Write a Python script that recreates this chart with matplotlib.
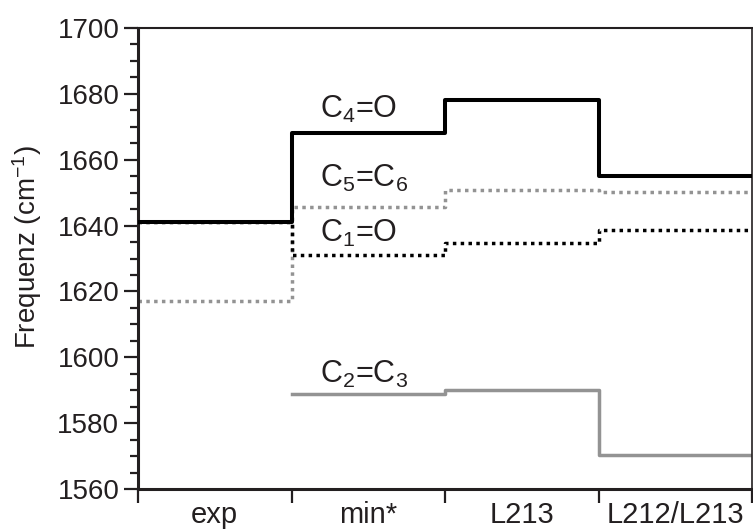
import matplotlib
matplotlib.use("Agg")
import matplotlib.pyplot as plt
import numpy as np

plt.rcParams['font.family'] = ['Liberation Sans', 'DejaVu Sans']
plt.rcParams['mathtext.default'] = 'regular'

categories = ["exp", "min*", "L213", "L212/L213"]

c4o = [1641, 1668, 1678, 1655]
c5c6 = [1617, 1645.5, 1650.8, 1650.2]
c1o = [1641, 1631.2, 1634.6, 1638.6]
c2c3 = [1589, 1590.2, 1570.3]   # from min* onward

ink = "#231f20"
grey = "#939393"

fig = plt.figure(figsize=(7.53, 5.29), dpi=100)
ax = fig.add_axes([138/753, 1 - 489/529, (752 - 138)/753, (489 - 28)/529])


def step_xy(values, start=0):
    xs = np.arange(start, start + len(values) + 1)
    ys = list(values) + [values[-1]]
    return xs, ys


dot = (0, (1.0, 1.25))

x, y = step_xy(c5c6)
ax.step(x, y, where='post', color=grey, lw=2.5, linestyle=dot, dash_capstyle='butt', zorder=2)
x, y = step_xy(c1o)
ax.step(x, y, where='post', color='black', lw=2.5, linestyle=dot, dash_capstyle='butt', zorder=3)
x, y = step_xy(c2c3, start=1)
ax.step(x, y, where='post', color=grey, lw=2.5, zorder=2)
x, y = step_xy(c4o)
ax.step(x, y, where='post', color='black', lw=2.9, zorder=4)

ax.set_xlim(0, 4)
ax.set_ylim(1560, 1700)

ax.set_yticks(np.arange(1560, 1701, 20))
ax.set_yticks(np.arange(1560, 1701, 5), minor=True)
ax.set_xticks(np.arange(0, 5))
ax.set_xticklabels([])
ax.set_xticks(np.arange(len(categories)) + 0.5, minor=True)
ax.set_xticklabels(categories, minor=True)

ax.tick_params(axis='y', which='major', length=10, width=1.6, labelsize=20,
               colors=ink, pad=3.5)
ax.tick_params(axis='y', which='minor', length=5.5, width=1.6, colors=ink)
ax.tick_params(axis='x', which='major', length=10, width=1.6, colors=ink)
ax.tick_params(axis='x', which='minor', length=0, labelsize=21, colors=ink, pad=8.5)

for side, w in [('left', 2.2), ('bottom', 2.2), ('top', 1.5), ('right', 1.2)]:
    ax.spines[side].set_linewidth(w)
    ax.spines[side].set_color(ink)

ax.set_ylabel("Frequenz (cm$^{-1}$)", fontsize=20, color=ink)
ax.yaxis.set_label_coords(-0.153, 0.525)

lab = dict(fontsize=22, color=ink, ha='left', va='baseline')
ax.text(1.186, 1672.7, "C$_4$=O", **lab)
ax.text(1.186, 1651.8, "C$_5$=C$_6$", **lab)
ax.text(1.186, 1635.1, "C$_1$=O", **lab)
ax.text(1.186, 1592.1, "C$_2$=C$_3$", **lab)

fig.savefig("out.png", dpi=100)
